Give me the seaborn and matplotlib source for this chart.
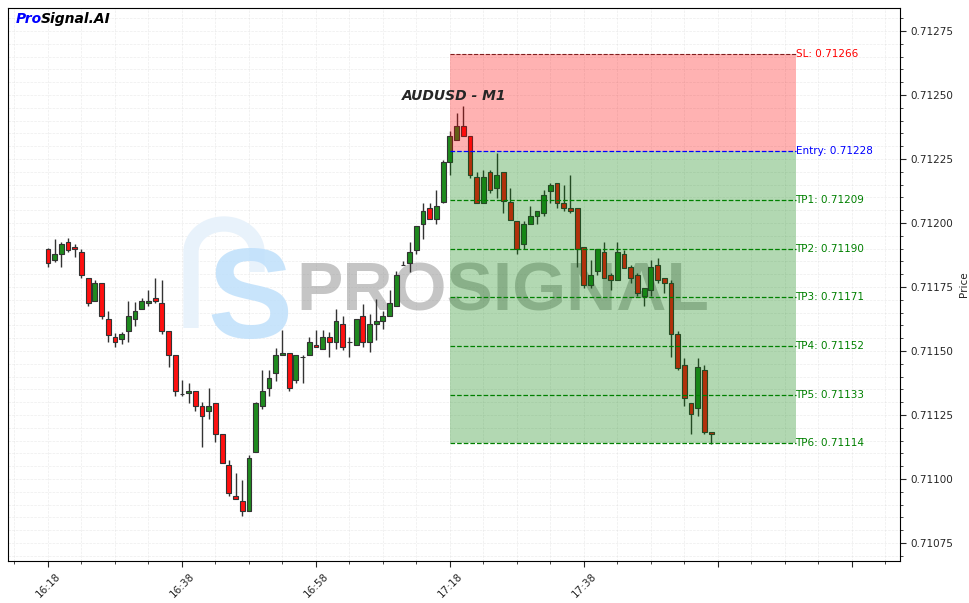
import numpy as np
import pandas as pd
import matplotlib
matplotlib.use("Agg")
import matplotlib.pyplot as plt
import seaborn as sns
from matplotlib.ticker import FixedLocator, MultipleLocator, FuncFormatter

# ---------------- data ----------------
opens = [0.711897, 0.711854, 0.711878, 0.711925, 0.711905, 0.711887, 0.711784, 0.711694, 0.711764, 0.711624,
         0.711554, 0.711546, 0.711577, 0.711624, 0.711665, 0.711686, 0.711707, 0.711686, 0.711577, 0.711484,
         0.711333, 0.711336, 0.711343, 0.711284, 0.711264, 0.711296, 0.711175, 0.711054, 0.710932, 0.710914,
         0.710875, 0.711104, 0.711284, 0.711354, 0.711414, 0.711484, 0.711493, 0.711386, 0.711475, 0.711483,
         0.711523, 0.711507, 0.711554, 0.711534, 0.711604, 0.711535, 0.711525, 0.711636, 0.711534, 0.711604,
         0.711616, 0.711636, 0.711675, 0.711835, 0.711845, 0.711896, 0.711995, 0.712057, 0.712014, 0.712083,
         0.712237, 0.712326, 0.712378, 0.712339, 0.712179, 0.712077, 0.712198, 0.712136, 0.712198, 0.712083,
         0.712007, 0.711917, 0.711996, 0.712026, 0.712038, 0.712126, 0.712155, 0.712077, 0.712057, 0.712057,
         0.711905, 0.711757, 0.711814, 0.711886, 0.711796, 0.711776, 0.711878, 0.711827, 0.711796, 0.711714,
         0.711737, 0.711835, 0.711784, 0.711764, 0.711565, 0.711444, 0.711296, 0.711276, 0.711425, 0.711182]
highs = [0.711904, 0.711936, 0.711926, 0.711943, 0.711917, 0.711897, 0.711784, 0.711776, 0.711764, 0.711655,
         0.711571, 0.711575, 0.711694, 0.711691, 0.711708, 0.711737, 0.711784, 0.711776, 0.711577, 0.711484,
         0.711386, 0.711374, 0.711343, 0.711302, 0.711354, 0.711296, 0.711175, 0.711073, 0.711022, 0.710995,
         0.711093, 0.711300, 0.711425, 0.711425, 0.711513, 0.711583, 0.711493, 0.711483, 0.711483, 0.711554,
         0.711583, 0.711583, 0.711574, 0.711665, 0.711636, 0.711554, 0.711624, 0.711685, 0.711643, 0.711704,
         0.711656, 0.711737, 0.711813, 0.711852, 0.711926, 0.711988, 0.712077, 0.712077, 0.712128, 0.712245,
         0.712358, 0.712429, 0.712457, 0.712339, 0.712198, 0.712207, 0.712207, 0.712275, 0.712198, 0.712136,
         0.712007, 0.712007, 0.712066, 0.712046, 0.712128, 0.712157, 0.712155, 0.712147, 0.712188, 0.712057,
         0.711905, 0.711854, 0.711897, 0.711925, 0.711806, 0.711925, 0.711895, 0.711835, 0.711806, 0.711745,
         0.711854, 0.711864, 0.711784, 0.711776, 0.711577, 0.711474, 0.711296, 0.711474, 0.711444, 0.711182]
lows = [0.711828, 0.711848, 0.711828, 0.711887, 0.711867, 0.711785, 0.711676, 0.711694, 0.711625, 0.711535,
        0.711514, 0.711526, 0.711534, 0.711596, 0.711665, 0.711675, 0.711686, 0.711565, 0.711438, 0.711323,
        0.711323, 0.711297, 0.711264, 0.711125, 0.711233, 0.711145, 0.711064, 0.710932, 0.710923, 0.710855,
        0.710875, 0.711104, 0.711275, 0.711324, 0.711384, 0.711484, 0.711344, 0.711375, 0.711375, 0.711483,
        0.711514, 0.711507, 0.711475, 0.711509, 0.711504, 0.711475, 0.711525, 0.711514, 0.711495, 0.711544,
        0.711585, 0.711636, 0.711675, 0.711835, 0.711809, 0.711878, 0.711936, 0.712014, 0.711995, 0.712079,
        0.712188, 0.712326, 0.712339, 0.712177, 0.712077, 0.712077, 0.712116, 0.712096, 0.712038, 0.712013,
        0.711880, 0.711897, 0.711996, 0.711996, 0.712027, 0.712079, 0.712059, 0.712046, 0.712039, 0.711829,
        0.711746, 0.711746, 0.711796, 0.711784, 0.711739, 0.711776, 0.711825, 0.711764, 0.711715, 0.711676,
        0.711715, 0.711764, 0.711725, 0.711477, 0.711425, 0.711285, 0.711175, 0.711246, 0.711175, 0.711136]
closes = [0.711845, 0.711878, 0.711917, 0.711896, 0.711897, 0.711796, 0.711686, 0.711764, 0.711636, 0.711564,
          0.711534, 0.711565, 0.711636, 0.711655, 0.711694, 0.711694, 0.711694, 0.711577, 0.711483, 0.711343,
          0.711333, 0.711344, 0.711284, 0.711245, 0.711284, 0.711175, 0.711064, 0.710944, 0.710923, 0.710875,
          0.711083, 0.711296, 0.711344, 0.711393, 0.711483, 0.711493, 0.711354, 0.711483, 0.711475, 0.711534,
          0.711514, 0.711554, 0.711534, 0.711616, 0.711514, 0.711535, 0.711624, 0.711534, 0.711604, 0.711616,
          0.711637, 0.711686, 0.711796, 0.711835, 0.711887, 0.711988, 0.712047, 0.712014, 0.712066, 0.712238,
          0.712339, 0.712378, 0.712339, 0.712186, 0.712077, 0.712179, 0.712128, 0.712188, 0.712086, 0.712013,
          0.711897, 0.711995, 0.712026, 0.712046, 0.712108, 0.712147, 0.712079, 0.712057, 0.712046, 0.711898,
          0.711757, 0.711796, 0.711897, 0.711784, 0.711776, 0.711886, 0.711825, 0.711784, 0.711725, 0.711745,
          0.711827, 0.711776, 0.711764, 0.711565, 0.711435, 0.711315, 0.711253, 0.711436, 0.711182, 0.711175]

tick_positions = [0, 20, 40, 60, 80, 100, 120]
tick_labels = ["16:18", "16:38", "16:58", "17:18", "17:38", "", ""]

symbol_title = "AUDUSD - M1"
sl_level = 0.71266
entry_level = 0.71228
tp_levels = [0.71209, 0.71190, 0.71171, 0.71152, 0.71133, 0.71114]
tp_names = ["TP1", "TP2", "TP3", "TP4", "TP5", "TP6"]

# ---------------- figure ----------------
sns.set_theme(style="white")
plt.rcParams["font.family"] = ["DejaVu Sans"]

fig = plt.figure(figsize=(9.69, 6.03), dpi=100)
ax = fig.add_axes([8 / 969, 42 / 603, 892 / 969, 553 / 603])

df = pd.DataFrame({"open": opens, "high": highs, "low": lows, "close": closes})
df["x"] = np.arange(len(df))
df["up"] = df["close"] >= df["open"]
df["bottom"] = df[["open", "close"]].min(axis=1)
df["height"] = (df["close"] - df["open"]).abs().clip(lower=6e-7)

green_c = "#1f8a1f"
red_c = "#ff1010"
edge_c = "#333333"

# wicks
ax.vlines(df["x"], df["low"], df["high"], color=edge_c, lw=1.0, zorder=3)
# bodies
ax.bar(df["x"], df["height"], bottom=df["bottom"], width=0.72,
       color=np.where(df["up"], green_c, red_c), edgecolor=edge_c, linewidth=0.8, zorder=4)

# trade zones
zone_start = 60
zone_end = 111.6
ax.fill_between([zone_start, zone_end], entry_level, sl_level, color="red", alpha=0.3, lw=0, zorder=5)
ax.fill_between([zone_start, zone_end], tp_levels[-1], entry_level, color="green", alpha=0.3, lw=0, zorder=5)

ax.hlines(sl_level, zone_start, zone_end, colors="#802020", linestyles="--", lw=0.8, zorder=6)
ax.hlines(entry_level, zone_start, zone_end, colors="blue", linestyles="--", lw=0.9, zorder=6)
ax.hlines(tp_levels, zone_start, zone_end, colors="green", linestyles="--", lw=0.9, zorder=6)

ax.text(zone_end, sl_level, f"SL: {sl_level:.5f}", color="red", fontsize=7.5, va="center", ha="left", zorder=7)
ax.text(zone_end, entry_level, f"Entry: {entry_level:.5f}", color="blue", fontsize=7.5, va="center", ha="left", zorder=7)
for name, lvl in zip(tp_names, tp_levels):
    ax.text(zone_end, lvl, f"{name}: {lvl:.5f}", color="green", fontsize=7.5, va="center", ha="left", zorder=7)

# watermark: faint logo outline (pixel-based path converted to axes fraction)
def px_to_ax(px, py):
    return ((px - 8) / 892, (561 - py) / 553)

theta = np.linspace(np.pi, 0, 40)
arc_x = 224 + 33 * np.cos(theta)
arc_y = 252 - 28 * np.sin(theta)
path_px = np.concatenate([
    np.column_stack([[191, 191], [328, 252]]),
    np.column_stack([arc_x, arc_y]),
    np.column_stack([[257], [272]]),
])
path_ax = np.array([px_to_ax(a, b) for a, b in path_px])
ax.plot(path_ax[:, 0], path_ax[:, 1], transform=ax.transAxes, color="#e8f2fb",
        lw=11, solid_capstyle="butt", solid_joinstyle="round", zorder=0.9)

ax.text(0.271, 0.463, "S", transform=ax.transAxes, fontsize=92, fontweight="bold",
        color="#bfe0fb", alpha=0.85, ha="center", va="center", zorder=1, family="Liberation Sans")
ax.text(0.555, 0.486, "PROSIGNAL", transform=ax.transAxes, fontsize=50, fontweight="bold",
        color="#808080", alpha=0.45, ha="center", va="center", zorder=1, family="Liberation Sans")

# title & brand
ax.text(0.5, 0.84, symbol_title, transform=ax.transAxes, fontsize=10, fontweight="bold",
        fontstyle="italic", ha="center", va="center", zorder=8)
fig.text(16 / 969, 1 - 19 / 603, "Pro", color="blue", fontsize=10, fontweight="bold",
         fontstyle="italic", ha="left", va="center")
fig.text(41 / 969, 1 - 19 / 603, "Signal.AI", color="black", fontsize=10, fontweight="bold",
         fontstyle="italic", ha="left", va="center")

# axes
ax.set_xlim(-5.97, 127.2)
ax.set_ylim(0.71068, 0.71284)
ax.xaxis.set_major_locator(FixedLocator(tick_positions))
ax.set_xticklabels(tick_labels, rotation=45, ha="center", fontsize=7.5)
ax.xaxis.set_minor_locator(MultipleLocator(5))
ax.yaxis.set_major_locator(MultipleLocator(0.00025))
ax.yaxis.set_minor_locator(MultipleLocator(0.00005))
ax.yaxis.set_major_formatter(FuncFormatter(lambda v, p: f"{v:.5f}"))
ax.yaxis.tick_right()
ax.yaxis.set_label_position("right")
ax.set_ylabel("Price", fontsize=7.5)
ax.tick_params(axis="y", which="major", labelsize=7.5, length=4, width=0.8, direction="out", right=True, left=False)
ax.tick_params(axis="y", which="minor", length=2, width=0.6, right=True, left=False)
ax.tick_params(axis="x", which="major", length=4, width=0.8, direction="out", bottom=True)
ax.tick_params(axis="x", which="minor", length=2, width=0.6, bottom=True)
ax.grid(True, which="both", color="#cccccc", linestyle="--", linewidth=0.5, alpha=0.35, zorder=0)
ax.set_axisbelow(True)
for s in ax.spines.values():
    s.set_color("black")
    s.set_linewidth(0.8)

fig.savefig("out.png", dpi=100)
